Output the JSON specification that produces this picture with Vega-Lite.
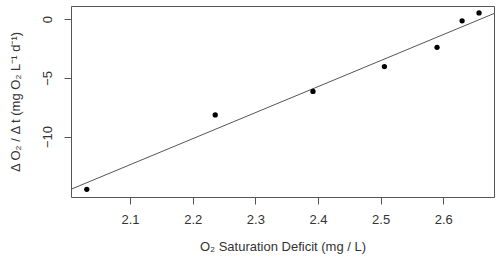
{
  "$schema": "https://vega.github.io/schema/vega-lite/v6.json",
  "width": 423,
  "height": 191,
  "autosize": {"type": "none"},
  "padding": {"left": 71, "top": 6, "right": 6, "bottom": 62},
  "background": "white",
  "config": {
    "view": {"stroke": "#555555", "strokeWidth": 1},
    "font": "Liberation Sans",
    "axis": {"grid": false, "domain": false, "tickColor": "#555555", "tickSize": 7, "labelFont": "Liberation Sans", "titleFont": "Liberation Sans", "labelFontSize": 13, "titleFontSize": 13, "titleFontWeight": "normal", "labelColor": "#333333", "titleColor": "#333333"}
  },
  "datasets": {
    "points": [
      {"deficit": 2.031, "rate": -14.5},
      {"deficit": 2.236, "rate": -8.16},
      {"deficit": 2.392, "rate": -6.16},
      {"deficit": 2.506, "rate": -4.04},
      {"deficit": 2.590, "rate": -2.4},
      {"deficit": 2.630, "rate": -0.14},
      {"deficit": 2.657, "rate": 0.53}
    ],
    "fit": [
      {"deficit": 2.0058, "rate": -14.49},
      {"deficit": 2.6809, "rate": 0.48}
    ]
  },
  "layer": [
    {
      "data": {"name": "fit"},
      "mark": {"type": "line", "color": "#555555", "strokeWidth": 1, "clip": true},
      "encoding": {
        "x": {"field": "deficit", "type": "quantitative"},
        "y": {"field": "rate", "type": "quantitative"}
      }
    },
    {
      "data": {"name": "points"},
      "mark": {"type": "point", "filled": true, "color": "black", "opacity": 1, "size": 28},
      "encoding": {
        "x": {
          "field": "deficit", "type": "quantitative",
          "scale": {"domain": [2.0058, 2.6809], "nice": false, "zero": false},
          "axis": {"values": [2.1, 2.2, 2.3, 2.4, 2.5, 2.6], "format": ".1f", "labelPadding": 9, "title": "O₂ Saturation Deficit (mg / L)", "titlePadding": 14}
        },
        "y": {
          "field": "rate", "type": "quantitative",
          "scale": {"domain": [-15.15, 1.12], "nice": false, "zero": false},
          "axis": {"values": [-10, -5, 0], "labelAngle": -90, "labelAlign": "center", "labelBaseline": "bottom", "labelPadding": 10, "title": "Δ O₂ / Δ t (mg O₂ L⁻¹ d⁻¹)", "titlePadding": 19}
        }
      }
    }
  ]
}
